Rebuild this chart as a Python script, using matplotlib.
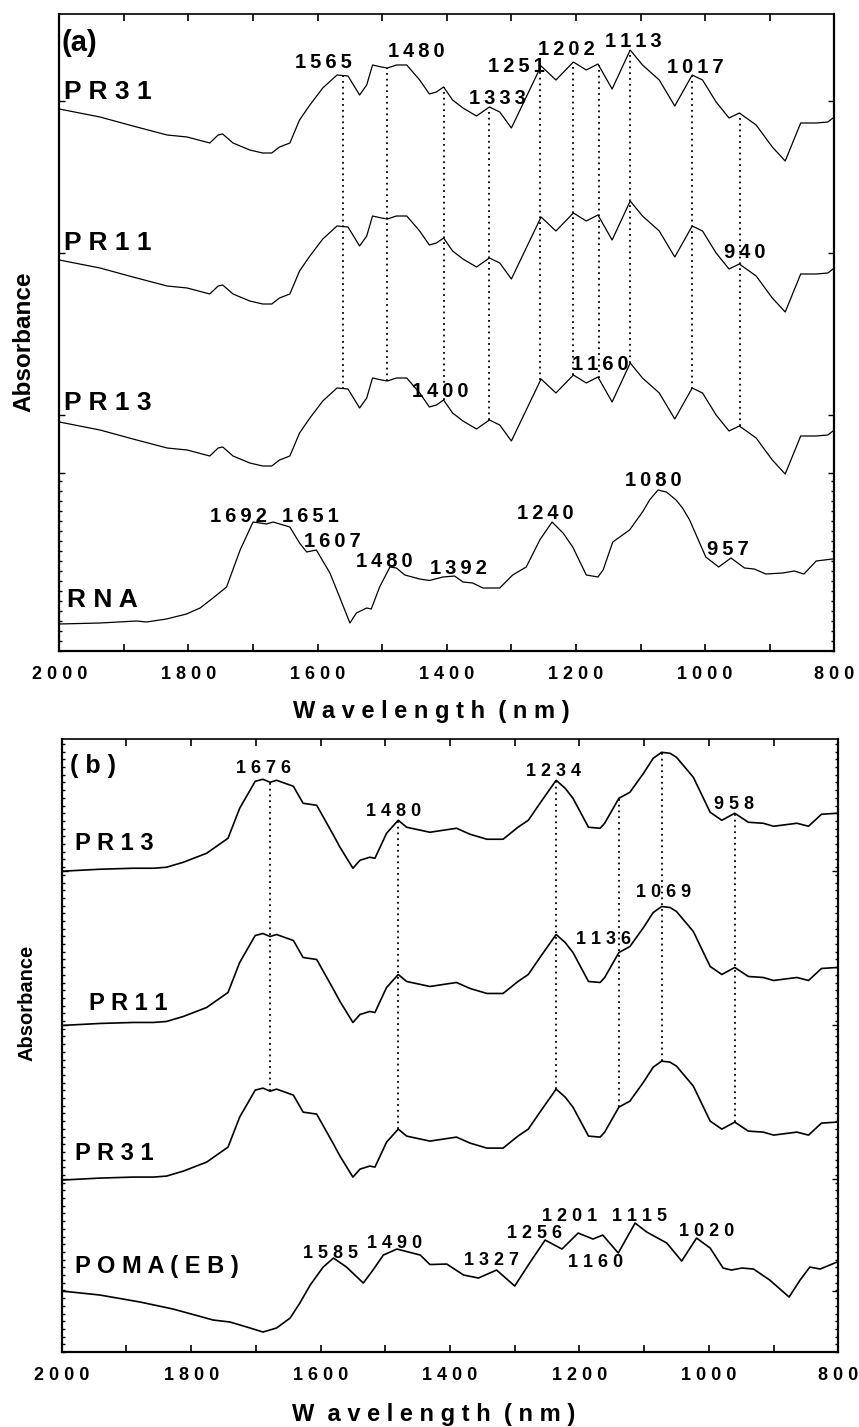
import matplotlib
matplotlib.use("Agg")
import matplotlib.pyplot as plt
import numpy as np

plt.rcParams['font.family'] = ['Liberation Sans', 'DejaVu Sans']
plt.rcParams['font.weight'] = 'bold'

# ---- panel (a) ----
# PR31 trace; PR11 and PR13 are the same trace stacked lower
wl_a = [2000, 1937, 1886, 1833, 1802, 1767, 1754, 1747, 1731, 1705, 1685, 1671, 1659, 1643, 1628,
        1612, 1592, 1570, 1553, 1535, 1524, 1515, 1501, 1492, 1478, 1462, 1442, 1427, 1416, 1405,
        1391, 1375, 1354, 1334, 1318, 1300, 1277, 1254, 1231, 1204, 1184, 1166, 1144, 1116, 1097,
        1071, 1047, 1020, 1004, 983, 963, 947, 921, 896, 876, 852, 828, 810, 800]
pr31_a = [5.42, 5.34, 5.25, 5.16, 5.14, 5.08, 5.16, 5.17, 5.08, 5.01, 4.98, 4.98, 5.04, 5.08, 5.31,
          5.46, 5.63, 5.76, 5.75, 5.56, 5.66, 5.86, 5.84, 5.83, 5.86, 5.86, 5.71, 5.57, 5.59, 5.64,
          5.51, 5.43, 5.35, 5.44, 5.39, 5.23, 5.54, 5.85, 5.71, 5.89, 5.81, 5.87, 5.62, 6.01, 5.86,
          5.71, 5.45, 5.76, 5.71, 5.49, 5.33, 5.38, 5.26, 5.04, 4.90, 5.28, 5.28, 5.29, 5.34]
names_a = ['PR31', 'PR11', 'PR13']
shifts_a = [0.0, -1.51, -3.13]

wl_rna = [2000, 1937, 1880, 1865, 1834, 1803, 1782, 1762, 1741, 1720, 1700, 1679, 1669, 1643, 1628,
          1617, 1602, 1581, 1566, 1550, 1540, 1524, 1517, 1504, 1488, 1478, 1465, 1442, 1427, 1406,
          1388, 1375, 1360, 1344, 1318, 1298, 1277, 1256, 1237, 1220, 1205, 1184, 1166, 1158, 1143,
          1117, 1097, 1086, 1073, 1060, 1045, 1035, 1024, 999, 979, 960, 939, 924, 906, 880, 862,
          847, 828, 803]
abs_rna = [0.27, 0.28, 0.30, 0.29, 0.32, 0.37, 0.43, 0.53, 0.64, 1.01, 1.29, 1.27, 1.29, 1.24, 1.08,
           0.99, 1.01, 0.78, 0.54, 0.28, 0.38, 0.43, 0.42, 0.64, 0.84, 0.83, 0.76, 0.72, 0.705, 0.74,
           0.75, 0.69, 0.68, 0.63, 0.63, 0.76, 0.84, 1.11, 1.29, 1.18, 1.04, 0.76, 0.74, 0.81, 1.09,
           1.21, 1.39, 1.51, 1.61, 1.59, 1.51, 1.43, 1.31, 0.94, 0.84, 0.93, 0.83, 0.82, 0.77, 0.78,
           0.80, 0.77, 0.90, 0.92]

marks_a = [1560, 1492, 1405, 1334, 1255, 1204, 1165, 1116, 1021, 946]
# peak labels: text, wavelength, height
peaks_a = [('1565', 1591, 5.88), ('1480', 1447, 5.99), ('1333', 1322, 5.52), ('1251', 1293, 5.84),
           ('1202', 1215, 6.01), ('1113', 1111, 6.09), ('1017', 1015, 5.83), ('940', 938, 3.98),
           ('1400', 1410, 2.59), ('1160', 1162, 2.86),
           ('1692', 1722, 1.34), ('1651', 1612, 1.34), ('1607', 1577, 1.09), ('1480', 1496, 0.89),
           ('1392', 1382, 0.82), ('1240', 1247, 1.37), ('1080', 1080, 1.70), ('957', 965, 1.01)]

# ---- panel (b) ----
wl_b = [2000, 1941, 1889, 1858, 1838, 1812, 1776, 1743, 1725, 1701, 1689, 1678, 1668, 1642, 1627,
        1606, 1580, 1570, 1550, 1539, 1524, 1516, 1498, 1480, 1467, 1431, 1390, 1369, 1343, 1318,
        1295, 1279, 1261, 1236, 1222, 1210, 1186, 1168, 1161, 1139, 1122, 1101, 1086, 1073, 1060,
        1050, 1037, 1024, 998, 980, 960, 939, 916, 900, 864, 846, 826, 802]
pr13_b = [4.81, 4.83, 4.84, 4.84, 4.85, 4.90, 4.99, 5.14, 5.44, 5.71, 5.73, 5.70, 5.72, 5.66, 5.49,
          5.47, 5.17, 5.05, 4.84, 4.92, 4.95, 4.94, 5.19, 5.32, 5.25, 5.20, 5.24, 5.18, 5.13, 5.13,
          5.25, 5.32, 5.49, 5.72, 5.64, 5.54, 5.25, 5.24, 5.29, 5.54, 5.60, 5.79, 5.94, 6.00, 5.99,
          5.95, 5.85, 5.75, 5.40, 5.32, 5.39, 5.30, 5.29, 5.26, 5.29, 5.26, 5.38, 5.39]
names_b = ['P R 1 3', 'P R 1 1', 'P R 3 1']
shifts_b = [0.0, -1.543, -3.09]

wl_poma = [2000, 1941, 1879, 1828, 1766, 1740, 1714, 1689, 1668, 1647, 1632, 1616, 1596, 1580, 1560,
           1534, 1519, 1503, 1482, 1446, 1431, 1405, 1379, 1356, 1328, 1300, 1276, 1253, 1227, 1202,
           1179, 1164, 1140, 1114, 1096, 1065, 1042, 1019, 998, 978, 965, 949, 931, 906, 876,
           859, 844, 828, 802]
abs_poma = [0.61, 0.57, 0.50, 0.43, 0.32, 0.30, 0.25, 0.20, 0.24, 0.34, 0.49, 0.67, 0.85, 0.94, 0.85,
            0.69, 0.82, 0.97, 1.03, 0.97, 0.875, 0.88, 0.77, 0.74, 0.82, 0.66, 0.90, 1.12, 1.03, 1.19,
            1.13, 1.17, 0.99, 1.29, 1.20, 1.09, 0.91, 1.14, 1.04, 0.84, 0.82, 0.84, 0.83, 0.72, 0.55,
            0.72, 0.85, 0.83, 0.90]

marks_b = [1678, 1480, 1236, 1139, 1072, 960]
peaks_b = [('1676', 1688, 5.84), ('1480', 1487, 5.41), ('1234', 1240, 5.81), ('958', 961, 5.48),
           ('1069', 1070, 4.60), ('1136', 1163, 4.13),
           ('1585', 1584, 0.99), ('1490', 1485, 1.09), ('1327', 1336, 0.92), ('1256', 1270, 1.19),
           ('1201', 1215, 1.36), ('1160', 1175, 0.90), ('1115', 1107, 1.36), ('1020', 1004, 1.21)]

xticks = [2000, 1800, 1600, 1400, 1200, 1000, 800]
THIN = '\u2009'


def at(wl, ab, x):
    return np.interp(x, np.asarray(wl)[::-1], np.asarray(ab)[::-1])


def style_axes(ax, ymax, ymajor, yminor, pad):
    ax.set_xlim(2000, 800)
    ax.set_ylim(0, ymax)
    ax.set_xticks(xticks, labels=[' '.join(str(t)) for t in xticks])
    ax.set_xticks(np.arange(800, 2001, 100), minor=True)
    ax.set_yticks(ymajor, labels=[])
    ax.set_yticks(yminor, minor=True)
    ax.tick_params(axis='x', which='both', direction='in', top=True, length=5, width=1.2,
                   labelsize=13, pad=pad)
    ax.tick_params(axis='y', which='major', direction='in', right=True, length=4, width=1)
    ax.tick_params(axis='y', which='minor', direction='in', right=True, length=2.5, width=1)
    for s in ['left', 'right', 'bottom']:
        ax.spines[s].set_linewidth(1.6)
    ax.spines['top'].set_linewidth(1.2)
    for lab in ax.get_xticklabels():
        lab.set_fontweight('bold')


fig = plt.figure(figsize=(8.59, 14.27), dpi=100)

# panel (a)
ax = fig.add_axes([0.06903, 0.54380, 0.90221, 0.44639])
for name, sh in zip(names_a, shifts_a):
    ax.plot(wl_a, np.array(pr31_a) + sh, color='black', lw=0.9, solid_joinstyle='round')
ax.plot(wl_rna, abs_rna, color='black', lw=0.9, solid_joinstyle='round')
top_a = at(wl_a, pr31_a, marks_a)
low_a = top_a + shifts_a[-1]
ax.vlines(marks_a, low_a, top_a, colors='black', linestyles=(0, (1, 2.2)), lw=1.3)

ax.text(1996, 6.08, '(a)', fontsize=21, fontweight='bold', ha='left', va='center')
lab_y = [5.59, 4.08, 2.48]
for name, y in zip(names_a, lab_y):
    ax.text(1993, y, ' '.join(name[:2]) + ' ' + ' '.join(name[2:]), fontsize=19,
            fontweight='bold', ha='left', va='center')
ax.text(1988, 0.51, 'R N A', fontsize=19, fontweight='bold', ha='left', va='center')
for txt, x, y in peaks_a:
    ax.text(x, y, THIN.join(txt), fontsize=14.5, fontweight='bold', ha='center', va='center')

style_axes(ax, 6.37, [5.5, 3.98, 2.36, 1.78], np.arange(0, 1.8, 0.1), 11)
ax.set_xlabel('W a v e l e n g t h  ( n m )', fontsize=17, fontweight='bold')
ax.xaxis.label.set_va('center')
ax.xaxis.set_label_coords(0.4796, -0.095)
ax.set_ylabel('Absorbance', fontsize=17.5, fontweight='bold')
ax.yaxis.label.set_va('center')
ax.yaxis.set_label_coords(-0.0455, 0.4856)

# panel (b)
ax = fig.add_axes([0.07183, 0.05256, 0.90407, 0.42936])
for name, sh in zip(names_b, shifts_b):
    ax.plot(wl_b, np.array(pr13_b) + sh, color='black', lw=1.2, solid_joinstyle='round')
ax.plot(wl_poma, abs_poma, color='black', lw=1.2, solid_joinstyle='round')
top_b = at(wl_b, pr13_b, marks_b)
low_b = top_b + shifts_b[-1]
ax.vlines(marks_b, low_b, top_b, colors='black', linestyles=(0, (1, 2.2)), lw=1.3)

ax.text(1987, 5.86, '( b )', fontsize=18, fontweight='bold', ha='left', va='center')
lab_xy = [(1979.5, 5.09), (1958, 3.49), (1979.5, 1.99)]
for name, (x, y) in zip(names_b, lab_xy):
    ax.text(x, y, name, fontsize=17, fontweight='bold', ha='left', va='center')
ax.text(1979.5, 0.86, 'P O M A ( E B )', fontsize=17, fontweight='bold', ha='left', va='center')
for txt, x, y in peaks_b:
    ax.text(x, y, ' '.join(txt), fontsize=13, fontweight='bold', ha='center', va='center')

style_axes(ax, 6.13, [4.81, 3.27, 1.73, 0.61], np.arange(0, 6.13, 0.077), 10.5)
ax.set_xlabel('W  a v e l e n g t h  ( n m )', fontsize=17, fontweight='bold')
ax.xaxis.label.set_va('center')
ax.xaxis.set_label_coords(0.4794, -0.102)
ax.set_ylabel('Absorbance', fontsize=14.5, fontweight='bold')
ax.yaxis.label.set_va('center')
ax.yaxis.set_label_coords(-0.045, 0.569)

fig.savefig('out.png', dpi=100)
